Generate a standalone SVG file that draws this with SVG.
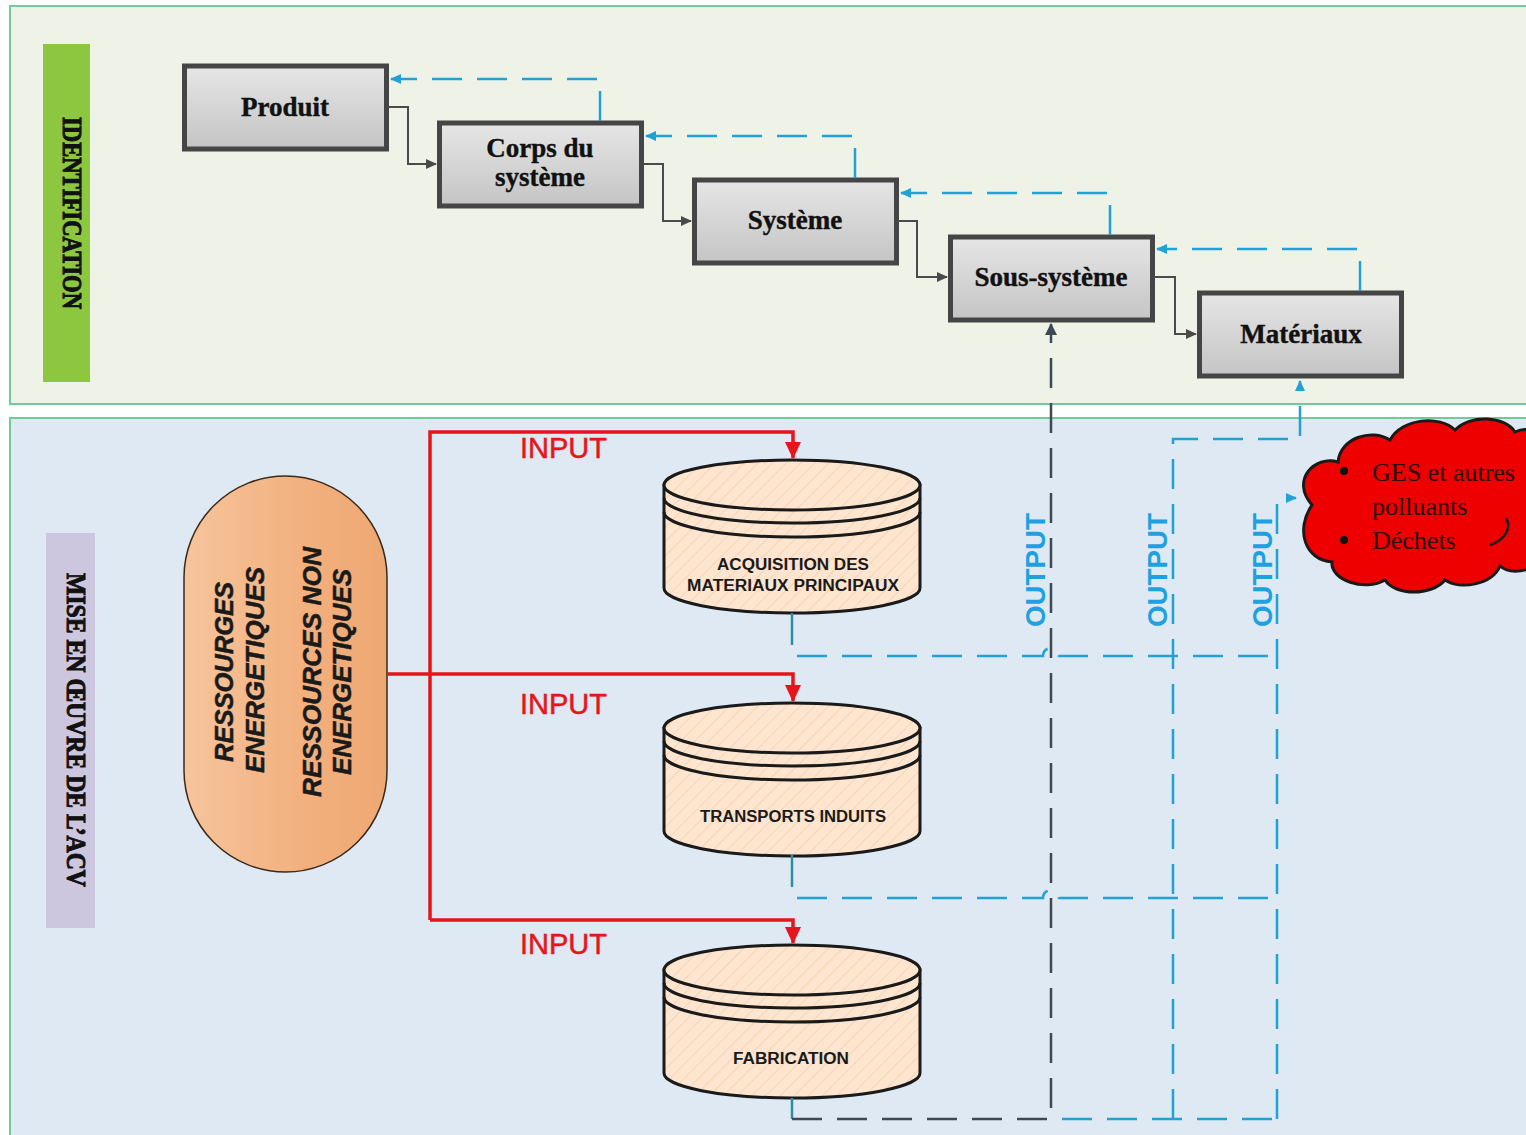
<svg xmlns="http://www.w3.org/2000/svg" width="1526" height="1135" viewBox="0 0 1526 1135">
<style>
.panel{stroke:#74c99a;stroke-width:2}
.box{fill:url(#gbox);stroke:#454545;stroke-width:5}
.bt{font-family:"Liberation Serif",serif;font-weight:bold;font-size:27px;fill:#111;stroke:#111;stroke-width:0.4;text-anchor:middle}
.lab{font-family:"Liberation Serif",serif;font-weight:bold;fill:#111;stroke:#111;stroke-width:1;text-anchor:middle}
.step{fill:none;stroke:#4a4a4a;stroke-width:2}
.fb{fill:none;stroke:#22a2d4;stroke-width:2.5;stroke-dasharray:30 15}
.red{fill:none;stroke:#e8141b;stroke-width:3.5}
.inp{font-family:"Liberation Sans",sans-serif;font-size:29px;fill:#e8141b;stroke:#e8141b;stroke-width:0.5}
.out{font-family:"Liberation Sans",sans-serif;font-weight:bold;font-size:27px;fill:#1da1e0;text-anchor:middle}
.cyl{stroke:#1a1a1a;stroke-width:3}
.ct{font-family:"Liberation Sans",sans-serif;font-weight:bold;font-size:16px;fill:#1a1a1a;text-anchor:middle}
.pill{font-family:"Liberation Sans",sans-serif;font-weight:bold;font-style:italic;font-size:25px;fill:#1a1a1a;stroke:#1a1a1a;stroke-width:0.5;text-anchor:middle}
.dk{fill:none;stroke:#3d4a55;stroke-width:2.5;stroke-dasharray:30 15}
.bl{fill:none;stroke:#22a2d4;stroke-width:2.5;stroke-dasharray:30 15}
.stem{fill:none;stroke:#2b8ea6;stroke-width:2.5}
.cl{font-family:"Liberation Serif",serif;font-size:26px;fill:#2a0808}
</style>
<defs>
<linearGradient id="gbox" x1="0" y1="0" x2="0" y2="1">
<stop offset="0" stop-color="#e6e6e6"/><stop offset="1" stop-color="#c4c4c4"/>
</linearGradient>
<linearGradient id="gpill" x1="0" y1="0" x2="1" y2="0">
<stop offset="0" stop-color="#f6c49c"/><stop offset="0.6" stop-color="#f2b07e"/><stop offset="1" stop-color="#eea872"/>
</linearGradient>
<pattern id="hatch" width="10" height="10" patternUnits="userSpaceOnUse" patternTransform="rotate(45)">
<rect width="10" height="10" fill="#fde5cf"/>
<line x1="0" y1="0" x2="0" y2="10" stroke="#f4cfae" stroke-width="1.5"/>
</pattern>
<marker id="ag" markerWidth="12" markerHeight="12" refX="10" refY="6" orient="auto" markerUnits="userSpaceOnUse">
<path d="M0,1 L11,6 L0,11 Z" fill="#4a4a4a"/>
</marker>
<marker id="ab" markerWidth="12" markerHeight="12" refX="10" refY="6" orient="auto" markerUnits="userSpaceOnUse">
<path d="M0,1 L11,6 L0,11 Z" fill="#22a2d4"/>
</marker>
<marker id="ad" markerWidth="12" markerHeight="14" refX="11" refY="7" orient="auto" markerUnits="userSpaceOnUse">
<path d="M0,1 L12,7 L0,13 Z" fill="#3d4a55"/>
</marker>
<marker id="ar" markerWidth="18" markerHeight="18" refX="16" refY="9" orient="auto" markerUnits="userSpaceOnUse">
<path d="M0,1 L17,9 L0,17 Z" fill="#e8141b"/>
</marker>
<g id="cylshape">
<path class="cyl" d="M-128,0 V103 A128,25 0 0 0 128,103 V0 Z" fill="url(#hatch)"/>
<ellipse class="cyl" cx="0" cy="0" rx="128" ry="25" fill="url(#hatch)"/>
<path class="cyl" fill="none" d="M-128,13 A128,25 0 0 0 128,13 M-128,27 A128,25 0 0 0 128,27"/>
</g>
</defs>
<rect width="1526" height="1135" fill="#ffffff"/>
<g id="panel-identification">
<rect class="panel" x="10" y="6" width="1530" height="398" fill="#eef2e7"/>
<rect x="43" y="44" width="47" height="338" fill="#8dc63f"/>
<text class="lab" font-size="27" textLength="192" lengthAdjust="spacingAndGlyphs" transform="translate(63,213) rotate(90)">IDENTIFICATION</text>
</g>
<g id="panel-mise">
<rect class="panel" x="10" y="418" width="1530" height="730" fill="#dfe9f3"/>
<rect x="46" y="533" width="49" height="395" fill="#cdc6df"/>
<text class="lab" font-size="27" textLength="314" lengthAdjust="spacingAndGlyphs" transform="translate(67,730) rotate(90)">MISE EN ŒUVRE DE L’ACV</text>
</g>

<g id="produit"><rect class="box" x="184.5" y="66" width="202" height="83"/><text class="bt" x="285" y="116">Produit</text></g>
<g id="corps"><rect class="box" x="439.5" y="123" width="202" height="83"/><text class="bt" x="540" y="157">Corps du</text><text class="bt" x="540" y="186">système</text></g>
<g id="systeme"><rect class="box" x="694.5" y="180" width="202" height="83"/><text class="bt" x="795" y="229">Système</text></g>
<g id="sous-systeme"><rect class="box" x="950.5" y="237" width="202" height="83"/><text class="bt" x="1051" y="286">Sous-système</text></g>
<g id="materiaux"><rect class="box" x="1199.5" y="293" width="202" height="83"/><text class="bt" x="1301" y="343">Matériaux</text></g>

<g id="ressources">
<rect x="184" y="476" width="203" height="396" rx="101.5" ry="101.5" fill="url(#gpill)" stroke="#3a2a1a" stroke-width="1.5"/>
<text class="pill" textLength="180" lengthAdjust="spacingAndGlyphs" transform="translate(233,672) rotate(-90)">RESSOURGES</text>
<text class="pill" textLength="206" lengthAdjust="spacingAndGlyphs" transform="translate(264,670) rotate(-90)">ENERGETIQUES</text>
<text class="pill" textLength="250" lengthAdjust="spacingAndGlyphs" transform="translate(321,672) rotate(-90)">RESSOURCES NON</text>
<text class="pill" textLength="206" lengthAdjust="spacingAndGlyphs" transform="translate(351,672) rotate(-90)">ENERGETIQUES</text>
</g>

<g id="acquisition"><use href="#cylshape" transform="translate(792,485)"/>
<text class="ct" x="793" y="570" textLength="152" lengthAdjust="spacingAndGlyphs">ACQUISITION DES</text>
<text class="ct" x="793" y="591" textLength="212" lengthAdjust="spacingAndGlyphs">MATERIAUX PRINCIPAUX</text></g>
<g id="transports"><use href="#cylshape" transform="translate(792,728)"/>
<text class="ct" x="793" y="822" textLength="186" lengthAdjust="spacingAndGlyphs">TRANSPORTS INDUITS</text></g>
<g id="fabrication"><use href="#cylshape" transform="translate(792,970)"/>
<text class="ct" x="791" y="1064" textLength="116" lengthAdjust="spacingAndGlyphs">FABRICATION</text></g>

<g id="dechets">
<path d="M1312,505 C1290,480 1315,455 1338,462 C1340,438 1372,428 1390,440 C1402,418 1440,415 1455,430 C1470,414 1505,416 1515,432 C1530,425 1545,435 1545,450 L1545,560 C1530,572 1510,575 1500,566 C1492,585 1460,590 1445,580 C1432,596 1395,596 1385,580 C1365,592 1330,580 1332,562 C1305,560 1295,530 1312,505 Z" fill="#ee0000" stroke="#1a1a1a" stroke-width="3"/>
<path d="M1490,545 C1505,540 1512,528 1506,518" fill="none" stroke="#1a1a1a" stroke-width="2.5"/>
<circle cx="1344" cy="471" r="4" fill="#111"/>
<circle cx="1344" cy="540" r="4" fill="#111"/>
<text class="cl" x="1372" y="481">GES et autres</text>
<text class="cl" x="1372" y="515">polluants</text>
<text class="cl" x="1372" y="549">Déchets</text>
</g>

<g id="connectors">
<path class="step" d="M388,107 H408 V164 H436" marker-end="url(#ag)"/>
<path class="step" d="M643,164 H663 V221 H691" marker-end="url(#ag)"/>
<path class="step" d="M898,221 H917 V277 H947" marker-end="url(#ag)"/>
<path class="step" d="M1154,277 H1175 V334 H1196" marker-end="url(#ag)"/>

<path class="fb" d="M600,121 V79 H391" marker-end="url(#ab)"/>
<path class="fb" d="M855,178 V136 H646" marker-end="url(#ab)"/>
<path class="fb" d="M1110,235 V193 H901" marker-end="url(#ab)"/>
<path class="fb" d="M1360,291 V249 H1157" marker-end="url(#ab)"/>

<path class="red" d="M430,920 V432 H793 V458" marker-end="url(#ar)"/>
<path class="red" d="M387,674 H793 V701" marker-end="url(#ar)"/>
<path class="red" d="M430,920 H793 V943" marker-end="url(#ar)"/>

<path class="stem" d="M792,613 V645"/>
<path class="stem" d="M792,855 V887"/>
<path class="stem" d="M792,1098 V1119"/>

<path class="bl" d="M797,656 H1043 A8,8 0 0 1 1059,656 H1277"/>
<path class="bl" d="M797,898 H1043 A8,8 0 0 1 1059,898 H1277"/>
<path class="bl" d="M1062,1119 H1277"/>
<path class="bl" d="M1173,1119 V439 H1300 V381" marker-end="url(#ab)"/>
<path class="bl" d="M1277,1119 V498 H1296" marker-end="url(#ab)"/>
<path class="dk" d="M792,1119 H1051 V324" marker-end="url(#ad)"/>

<text class="inp" x="520" y="458">INPUT</text>
<text class="inp" x="520" y="714">INPUT</text>
<text class="inp" x="520" y="954">INPUT</text>
<text class="out" textLength="114" lengthAdjust="spacingAndGlyphs" transform="translate(1045,570) rotate(-90)">OUTPUT</text>
<text class="out" textLength="114" lengthAdjust="spacingAndGlyphs" transform="translate(1167,570) rotate(-90)">OUTPUT</text>
<text class="out" textLength="114" lengthAdjust="spacingAndGlyphs" transform="translate(1272,570) rotate(-90)">OUTPUT</text>
</g>
</svg>
